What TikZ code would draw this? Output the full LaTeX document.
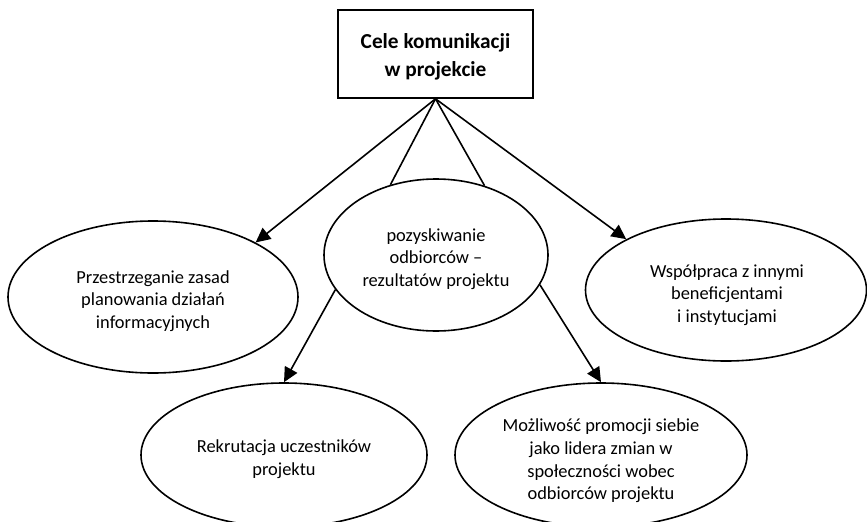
\documentclass[tikz,border=0pt]{standalone}
\usepackage{fontspec}
\setmainfont{Carlito}
\usetikzlibrary{shapes.geometric,arrows.meta}
\tikzset{
  goal/.style={draw, ellipse, line width=1.2pt, inner sep=0pt},
  goaltext/.style={inner sep=0pt, align=center, font=\fontsize{13.8}{17}\selectfont},
  titlebox/.style={draw, rectangle, line width=1.2pt, inner sep=0pt,
    minimum width=146.25pt, minimum height=66pt},
  titletext/.style={inner sep=0pt, align=center, font=\fontsize{16}{20.8}\selectfont\bfseries},
  link/.style={line width=1.2pt},
  arrowlink/.style={line width=1.2pt, -{Triangle[length=11pt,width=10.5pt]}}
}
\begin{document}
\begin{tikzpicture}[x=0.75pt,y=-0.75pt]
\clip (0,0) rectangle (867,521);
\fill[white] (0,0) rectangle (867,521);
\node[titlebox] (top) at (435.5,54) {};
\node[titletext] (topt) at (435.5,57) {Cele komunikacji\\w projekcie};
\node[goal, minimum width=217.5pt, minimum height=114pt] (L) at (153,297) {};
\node[goaltext] (Lt) at (153,301) {Przestrzeganie zasad\\planowania działań\\informacyjnych};
\node[goal, minimum width=168pt, minimum height=114pt] (C) at (436,255) {};
\node[goaltext] (Ct) at (436,259) {pozyskiwanie\\odbiorców –\\rezultatów projektu};
\node[goal, minimum width=210.75pt, minimum height=106.5pt] (R) at (726,290) {};
\node[goaltext] (Rt) at (727,295) {Współpraca z innymi\\beneficjentami\\i instytucjami};
\node[goal, minimum width=214.5pt, minimum height=108pt] (BL) at (284,455) {};
\node[goaltext] (BLt) at (284,459.5) {Rekrutacja uczestników\\projektu};
\node[goal, minimum width=219pt, minimum height=108pt] (BR) at (601,455) {};
\node[goaltext] (BRt) at (601,461) {Możliwość promocji siebie\\jako lidera zmian w\\społeczności wobec\\odbiorców projektu};
\draw[arrowlink] (top.south) -- (L.28);
\draw[arrowlink] (top.south) -- (R.153);
\draw[link] (top.south) -- (C.123);
\draw[link] (top.south) -- (C.55);
\draw[arrowlink] (C.199) -- (BL.north);
\draw[arrowlink] (C.344) -- (BR.north);
\end{tikzpicture}
\end{document}
